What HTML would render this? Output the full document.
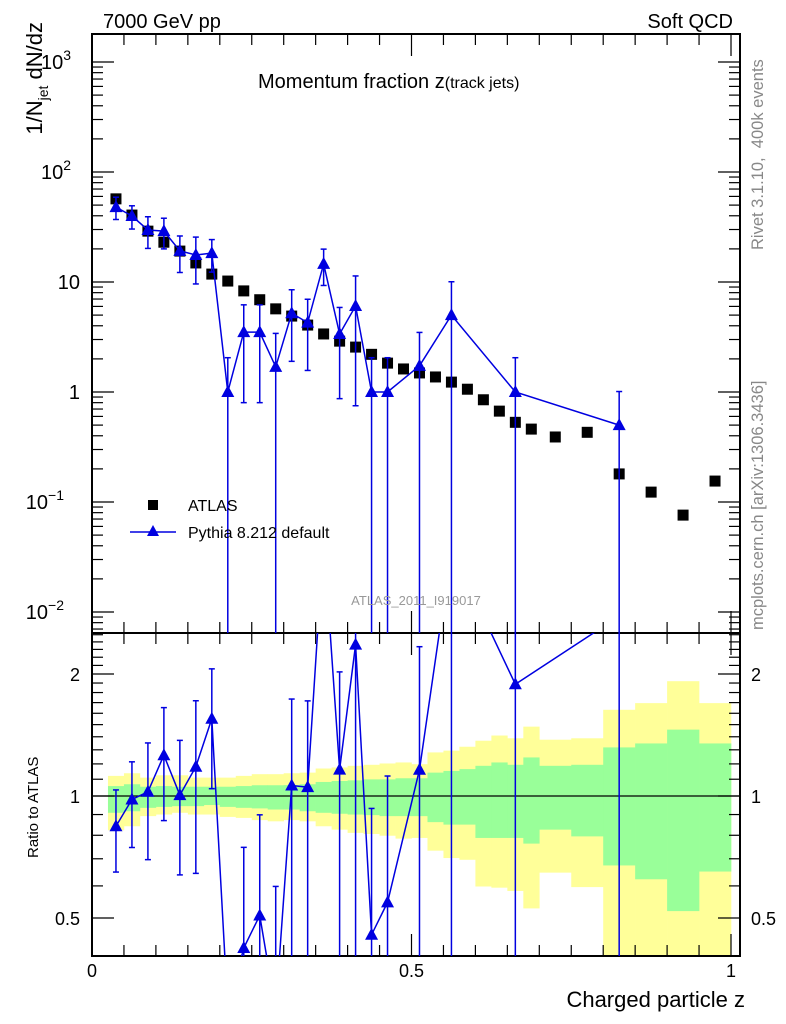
<!DOCTYPE html>
<html><head><meta charset="utf-8"><style>
html,body{margin:0;padding:0;background:#fff;overflow:hidden;}
svg{display:block;font-family:"Liberation Sans",sans-serif;}
</style></head><body>
<svg id="c" width="786" height="1024" viewBox="0 0 786 1024" xmlns="http://www.w3.org/2000/svg">
<defs>
<clipPath id="clipTop"><rect x="92" y="34" width="648" height="599"/></clipPath>
<clipPath id="clipRat"><rect x="92" y="633" width="648" height="323"/></clipPath>
</defs>
<g id="bands" clip-path="url(#clipRat)"></g>
<g id="axes"></g>
<g id="marksTop" clip-path="url(#clipTop)"></g>
<g id="marksRat" clip-path="url(#clipRat)"></g>
<text x="103" y="28" font-size="20">7000 GeV pp</text>
<text x="733" y="28" font-size="20" text-anchor="end">Soft QCD</text>
<text x="258" y="88" font-size="20">Momentum fraction z<tspan font-size="16">(track jets)</tspan></text>
<text transform="translate(42,22) rotate(-90)" font-size="22" text-anchor="end">1/N<tspan font-size="14" dy="6">jet</tspan><tspan dy="-6"> dN/dz</tspan></text>
<text transform="translate(38,858) rotate(-90)" font-size="15">Ratio to ATLAS</text>
<text x="745" y="1007" font-size="22" text-anchor="end">Charged particle z</text>
<text transform="translate(763,250) rotate(-90)" font-size="16.5" fill="#888" xml:space="preserve">Rivet 3.1.10,  400k events</text>
<text transform="translate(763,630) rotate(-90)" font-size="16.5" fill="#888">mcplots.cern.ch [arXiv:1306.3436]</text>
<text x="416" y="605" font-size="13" fill="#999" text-anchor="middle">ATLAS_2011_I919017</text>
<g>
<rect x="148" y="500" width="10" height="10" fill="#000"/>
<text x="188" y="511" font-size="16">ATLAS</text>
<line x1="130" y1="532" x2="176" y2="532" stroke="#0000e0" stroke-width="1.5"/>
<polygon points="153,525 147,536 159,536" fill="#0000e0"/>
<text x="188" y="538" font-size="16">Pythia 8.212 default</text>
</g>
</svg>
<script>
const binLo=[0.025,0.05,0.075,0.1,0.125,0.15,0.175,0.2,0.225,0.25,0.275,0.3,0.325,0.35,0.375,0.4,0.425,0.45,0.475,0.5,0.525,0.55,0.575,0.6,0.625,0.65,0.675,0.7,0.75,0.8,0.85,0.9,0.95];
const binHi=[0.05,0.075,0.1,0.125,0.15,0.175,0.2,0.225,0.25,0.275,0.3,0.325,0.35,0.375,0.4,0.425,0.45,0.475,0.5,0.525,0.55,0.575,0.6,0.625,0.65,0.675,0.7,0.75,0.8,0.85,0.9,0.95,1.0];
const atlasVals=[57,40.6,29,23,19.1,14.9,11.8,10.2,8.3,6.9,5.7,4.9,4.06,3.37,2.9,2.56,2.2,1.83,1.62,1.49,1.37,1.23,1.06,0.85,0.67,0.53,0.46,0.39,0.43,0.18,0.123,0.076,0.155];
const yellowHi=[1.121,1.138,1.110,1.125,1.125,1.110,1.110,1.110,1.121,1.132,1.132,1.138,1.142,1.169,1.176,1.187,1.194,1.203,1.210,1.198,1.281,1.294,1.323,1.369,1.410,1.388,1.483,1.377,1.388,1.632,1.695,1.92,1.695];
const yellowLo=[0.823,0.842,0.892,0.900,0.909,0.900,0.900,0.888,0.883,0.872,0.866,0.872,0.866,0.842,0.826,0.811,0.806,0.798,0.785,0.788,0.733,0.703,0.696,0.598,0.594,0.583,0.528,0.647,0.596,0.3,0.3,0.3,0.3];
const greenHi=[1.058,1.069,1.054,1.058,1.054,1.054,1.054,1.054,1.058,1.063,1.063,1.064,1.069,1.083,1.089,1.093,1.099,1.099,1.106,1.106,1.142,1.153,1.165,1.187,1.210,1.194,1.245,1.187,1.194,1.318,1.348,1.458,1.348];
const greenLo=[0.909,0.917,0.935,0.940,0.944,0.944,0.950,0.940,0.935,0.932,0.926,0.926,0.917,0.909,0.904,0.900,0.897,0.892,0.892,0.892,0.862,0.850,0.850,0.788,0.788,0.788,0.763,0.826,0.795,0.674,0.623,0.520,0.651];
const pythiaBins=[0,1,2,3,4,5,6,7,8,9,10,11,12,13,14,15,16,17,19,21,25,29];
const pythiaVals=[48,39.8,29.7,29,19.2,17.6,18.3,1.0,3.5,3.5,1.69,5.2,4.27,14.6,3.37,6.05,1.0,1.0,1.73,5,1.0,0.5];
const pythiaErrs=[11,9.5,9.5,9,7,8,6,1.05,2.7,2.7,1.72,3.3,2.7,5.3,2.5,5.3,1.05,1.05,1.75,5.05,1.05,0.51];
const xTicksMajor=[0,0.5,1];
const xTickLabels=["0","0.5","1"];
const ratioTicks=[2,1,0.5];
const ratioTickLabels=["2","1","0.5"];

const NS="http://www.w3.org/2000/svg";
const L=92,R=740,T=34,M=633,B=956;
const X=z=>92+z*639;
const Y=v=>392-110*Math.log10(v);
const RY=r=>796-122*Math.log2(r);
function mk(p,tag,a){const e=document.createElementNS(NS,tag);for(const k in a)e.setAttribute(k,a[k]);p.appendChild(e);return e;}
const ax=document.getElementById('axes'),bands=document.getElementById('bands'),mt=document.getElementById('marksTop'),mr=document.getElementById('marksRat');

for(let i=0;i<binLo.length;i++){
  let e=mk(bands,'rect',{x:X(binLo[i]),y:RY(yellowHi[i]),width:X(binHi[i])-X(binLo[i])+0.3,height:RY(yellowLo[i])-RY(yellowHi[i]),fill:'#ffff99'});
  
  
}
for(let i=0;i<binLo.length;i++){
  let e=mk(bands,'rect',{x:X(binLo[i]),y:RY(greenHi[i]),width:X(binHi[i])-X(binLo[i])+0.3,height:RY(greenLo[i])-RY(greenHi[i]),fill:'#99ff99'});
  
  
}
let one=mk(bands,'line',{x1:L,x2:R,y1:RY(1),y2:RY(1),stroke:'#000','stroke-width':1.3});



for(const [y1,y2,n] of [[T,M,'top-panel-frame'],[M,B,'ratio-panel-frame']]){
  let f=mk(ax,'rect',{x:L,y:y1,width:R-L,height:y2-y1,fill:'none',stroke:'#000','stroke-width':2});
  
  
}
for(let k=0;k<=20;k++){
  const z=k*0.05,x=X(z),maj=(k%10===0),len=maj?22:11;
  for(const [yb,dir] of [[T,1],[M,-1],[M,1],[B,-1]]){
    let t=mk(ax,'line',{x1:x,x2:x,y1:yb,y2:yb+dir*len,stroke:'#000','stroke-width':1.2});
    
    
  }
}
xTicksMajor.forEach((z,i)=>{
  let t=mk(ax,'text',{x:X(z),y:977,'font-size':18,'text-anchor':'middle'});t.textContent=xTickLabels[i];
  
  
});
for(let d=-3;d<=3;d++){
  for(let m=1;m<=9;m++){
    const v=m*Math.pow(10,d),y=Y(v);
    if(y<T||y>M)continue;
    const len=m===1?22:11;
    for(const [xb,dir] of [[L,1],[R,-1]]){
      let t=mk(ax,'line',{x1:xb,x2:xb+dir*len,y1:y,y2:y,stroke:'#000','stroke-width':1.2});
      
      
    }
  }
}
const yl=[[3,'10','3'],[2,'10','2'],[1,'10',''],[0,'1',''],[-1,'10','−1'],[-2,'10','−2']];
for(const [d,b,e] of yl){
  let t=mk(ax,'text',{x:e?78-e.length*7:80,y:Y(Math.pow(10,d))+7,'font-size':20,'text-anchor':'end'});
  t.textContent=b;
  
  
  if(e){let s=mk(t,'tspan',{dy:-9,'font-size':14});s.textContent=e;}
}
for(let k=4;k<=25;k++){
  const r=k/10,y=RY(r);if(y<M||y>B)continue;
  const maj=(k===10||k===20||k===5);
  const len=maj?22:11;
  for(const [xb,dir] of [[L,1],[R,-1]]){
    let t=mk(ax,'line',{x1:xb,x2:xb+dir*len,y1:y,y2:y,stroke:'#000','stroke-width':1.2});
    
    
  }
}
ratioTicks.forEach((r,i)=>{
  let t=mk(ax,'text',{x:80,y:RY(r)+7,'font-size':18,'text-anchor':'end'});t.textContent=ratioTickLabels[i];
  
  
  let t2=mk(ax,'text',{x:751,y:RY(r)+7,'font-size':18});t2.textContent=ratioTickLabels[i];
  
  
});

atlasVals.forEach((v,i)=>{
  const cx=X((binLo[i]+binHi[i])/2),cy=Y(v);
  let s=mk(mt,'rect',{x:cx-5.5,y:cy-5.5,width:11,height:11,fill:'#000'});
  
  
});
const blue='#0000e0';
function tri(p,x,y){return mk(p,'polygon',{points:`${x},${y-7} ${x-6.5},${y+5} ${x+6.5},${y+5}`,fill:blue});}
function drawSeries(p,valF,errF,name){
  let pts=[];
  pythiaBins.forEach((b,i)=>{
    const x=X((binLo[b]+binHi[b])/2);
    const v=valF(i),e=errF(i);
    const cl=yy=>Math.max(-50,Math.min(1010,yy));
    const y=v>0?cl(p.Y(v)):1010;
    const yu=cl(p.Y(v+e)), yd=(v-e)>0?cl(p.Y(v-e)):1010;
    let l=mk(p.g,'line',{x1:x,x2:x,y1:yu,y2:yd,stroke:blue,'stroke-width':1.5});
    
    
    for(const yy of [yu,yd]){
      let c=mk(p.g,'line',{x1:x-3,x2:x+3,y1:yy,y2:yy,stroke:blue,'stroke-width':1.5});
      
      
    }
    pts.push([x,y]);
  });
  let pl=mk(p.g,'polyline',{points:pts.map(q=>q.join(',')).join(' '),fill:'none',stroke:blue,'stroke-width':1.5});
  
  
  pts.forEach(q=>{
    let t=tri(p.g,q[0],q[1]);
    
    
  });
}
drawSeries({g:mt,Y:Y},i=>pythiaVals[i],i=>pythiaErrs[i],'pythia');
drawSeries({g:mr,Y:RY},i=>pythiaVals[i]/atlasVals[pythiaBins[i]],i=>pythiaErrs[i]/atlasVals[pythiaBins[i]],'pythia-ratio');
</script>
</body></html>
